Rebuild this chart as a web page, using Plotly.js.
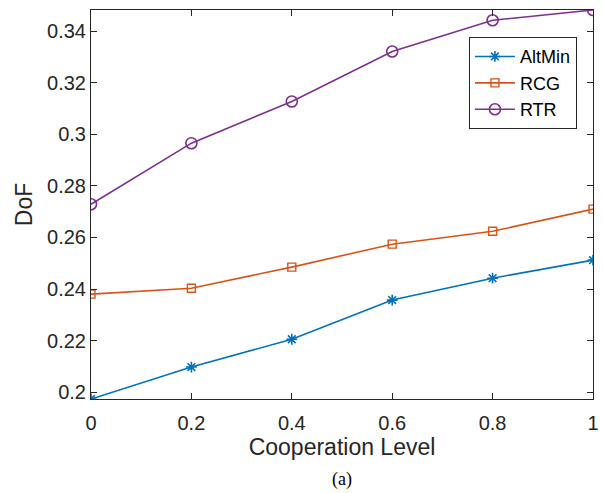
<!DOCTYPE html>
<html><head><meta charset="utf-8">
<script src="https://cdn.plot.ly/plotly-3.0.1.min.js"></script>
<style>body{margin:0;background:#fff}#c{width:603px;height:493px}</style>
</head><body><div id="c"></div>
<script>
const coop = [0, 0.2, 0.4, 0.6, 0.8, 1];
const altMin = [0.1973, 0.2097, 0.2205, 0.2357, 0.2442, 0.2512];
const rcg = [0.2380, 0.2403, 0.2485, 0.2574, 0.2624, 0.2710];
const rtr = [0.2729, 0.2966, 0.3128, 0.3322, 0.3443, 0.3483];
const yTicks = [0.2, 0.22, 0.24, 0.26, 0.28, 0.3, 0.32, 0.34];
const yTickText = ['0.2','0.22','0.24','0.26','0.28','0.3','0.32','0.34'];
const xTicks = [0, 0.2, 0.4, 0.6, 0.8, 1];
const xTickText = ['0','0.2','0.4','0.6','0.8','1'];

const axisCol = '#262626';
const sans = "'Liberation Sans', Arial, sans-serif";
const serif = "'Liberation Serif', 'Times New Roman', serif";
const traces = [
  {x: coop, y: altMin, name: 'AltMin', mode: 'lines+markers',
   line: {color: '#0072BD', width: 1.6},
   marker: {symbol: 'asterisk-open', size: 9, color: '#0072BD', line: {color: '#0072BD', width: 1.6}}},
  {x: coop, y: rcg, name: 'RCG', mode: 'lines+markers',
   line: {color: '#D95319', width: 1.6},
   marker: {symbol: 'square-open', size: 8, color: '#D95319', line: {color: '#D95319', width: 1.4}}},
  {x: coop, y: rtr, name: 'RTR', mode: 'lines+markers',
   line: {color: '#7E2F8E', width: 1.6},
   marker: {symbol: 'circle-open', size: 11, color: '#7E2F8E', line: {color: '#7E2F8E', width: 1.6}}}
];
const layout = {
  width: 603, height: 493,
  margin: {l: 91, r: 10, t: 10, b: 94},
  paper_bgcolor: '#fff', plot_bgcolor: '#fff',
  font: {family: sans, size: 20, color: axisCol},
  showlegend: true,
  legend: {x: 0.968, y: 0.93, xanchor: 'right', yanchor: 'top',
    bgcolor: '#fff', bordercolor: axisCol, borderwidth: 1,
    font: {family: sans, size: 18, color: '#000'},
    tracegroupgap: 0, itemwidth: 40},
  xaxis: {range: [0, 1], tickvals: xTicks, ticktext: xTickText,
    tickfont: {family: sans, size: 20, color: axisCol}, ticklabelstandoff: 6,
    ticks: 'inside', ticklen: 6, tickcolor: axisCol, showline: true, linecolor: axisCol, linewidth: 1,
    mirror: 'allticks', showgrid: false, zeroline: false,
    title: {text: 'Cooperation Level', font: {family: sans, size: 23, color: axisCol}, standoff: 4}},
  yaxis: {range: [0.1973, 0.3483], tickvals: yTicks, ticktext: yTickText,
    tickfont: {family: sans, size: 20, color: axisCol},
    ticks: 'inside', ticklen: 6, tickcolor: axisCol, showline: true, linecolor: axisCol, linewidth: 1,
    mirror: 'allticks', showgrid: false, zeroline: false,
    title: {text: 'DoF', font: {family: sans, size: 23, color: axisCol}, standoff: 8}},
  annotations: [{text: '(a)', xref: 'paper', yref: 'paper', x: 0.5, y: -0.208, xanchor: 'center', yanchor: 'middle',
    showarrow: false, font: {family: serif, size: 18, color: '#000'}}]
};
Plotly.newPlot('c', traces, layout, {displayModeBar: false, staticPlot: true});
</script></body></html>
